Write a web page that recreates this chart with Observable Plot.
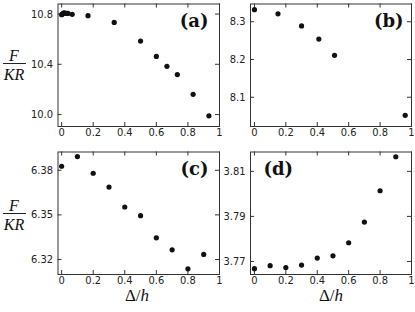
<!DOCTYPE html>
<html><head><meta charset="utf-8">
<script src="https://cdn.jsdelivr.net/npm/d3@7"></script>
<script src="https://cdn.jsdelivr.net/npm/@observablehq/plot@0.6"></script>
<style>
html,body{margin:0;padding:0;background:#fff;}
#wrap{position:relative;width:415px;height:312px;overflow:hidden;background:#fff;}
#wrap svg{position:absolute;overflow:visible;}
.fr{position:absolute;font-family:"Liberation Serif",serif;font-style:italic;font-size:16px;line-height:12px;text-align:center;width:26px;left:1px;color:#111;}
.bar{position:absolute;left:3px;width:23px;height:1px;background:#222;}
.xl{position:absolute;width:80px;text-align:center;font-family:"Liberation Serif",serif;font-size:17px;line-height:12px;color:#111;}
.xl i{font-style:italic;}
</style></head><body><div id="wrap"></div>
<script>
// ---- data ----
const xTicks = [0, 0.2, 0.4, 0.6, 0.8, 1];
const xTickLabels = ["0", "0.2", "0.4", "0.6", "0.8", "1"];

const aDelta = [0, 0.005, 0.01, 0.015, 0.02, 0.03, 0.04, 0.067, 0.167, 0.333, 0.5, 0.6, 0.667, 0.733, 0.833, 0.933];
const aF = [10.795, 10.800, 10.805, 10.810, 10.808, 10.806, 10.805, 10.798, 10.787, 10.733, 10.585, 10.463, 10.384, 10.318, 10.161, 9.99];
const aYTicks = [10.0, 10.4, 10.8];
const aYTickLabels = ["10.0", "10.4", "10.8"];

const bDelta = [0, 0.15, 0.3, 0.41, 0.51, 0.96];
const bF = [8.332, 8.321, 8.289, 8.254, 8.211, 8.052];
const bYTicks = [8.1, 8.2, 8.3];
const bYTickLabels = ["8.1", "8.2", "8.3"];

const cDelta = [0, 0.1, 0.2, 0.3, 0.4, 0.5, 0.6, 0.7, 0.8, 0.9];
const cF = [6.3827, 6.3892, 6.378, 6.3687, 6.3553, 6.3495, 6.3346, 6.3265, 6.3137, 6.3234];
const cYTicks = [6.32, 6.35, 6.38];
const cYTickLabels = ["6.32", "6.35", "6.38"];

const dDelta = [0, 0.1, 0.2, 0.3, 0.4, 0.5, 0.6, 0.7, 0.8, 0.9];
const dF = [3.7668, 3.7681, 3.7673, 3.7684, 3.7715, 3.7725, 3.7783, 3.7875, 3.8014, 3.8165];
const dYTicks = [3.77, 3.79, 3.81];
const dYTickLabels = ["3.77", "3.79", "3.81"];

const panelLabels = ["(a)", "(b)", "(c)", "(d)"];
const yLabelTop = "F";
const yLabelBottom = "KR";

// ---- drawing ----
const wrap = document.getElementById("wrap");
const frameColor = "#333";
const tickFont = '"DejaVu Sans Condensed","DejaVu Sans",sans-serif';

function panel(cfg) {
  const innerH = cfg.height - cfg.mt - cfg.mb;
  const innerW = cfg.width - cfg.ml - cfg.mr;
  const data = cfg.xs.map((x, i) => ({x, y: cfg.ys[i]}));
  const tk = 4;
  const chart = Plot.plot({
    width: cfg.width, height: cfg.height,
    marginLeft: cfg.ml, marginRight: cfg.mr, marginTop: cfg.mt, marginBottom: cfg.mb,
    x: {domain: cfg.xDomain, label: null},
    y: {domain: cfg.yDomain, label: null},
    style: {fontFamily: tickFont, fontSize: "11px", color: "#222", background: "transparent", overflow: "visible"},
    marks: [
      Plot.tickX(xTicks, {x: d => d, insetTop: innerH - tk, stroke: frameColor}),
      Plot.tickX(xTicks, {x: d => d, insetBottom: innerH - tk, stroke: frameColor}),
      Plot.tickY(cfg.yTicks, {y: d => d, insetLeft: innerW - tk, stroke: frameColor}),
      Plot.tickY(cfg.yTicks, {y: d => d, insetRight: innerW - tk, stroke: frameColor}),
      Plot.axisX(xTicks, {anchor: "bottom", label: null, tickSize: 0, tickPadding: 2, tickFormat: d => xTickLabels[xTicks.indexOf(d)], fill: "#222"}),
      Plot.axisY(cfg.yTicks, {anchor: "left", label: null, tickSize: 0, tickPadding: 5, tickFormat: d => cfg.yTickLabels[cfg.yTicks.indexOf(d)], fill: "#222"}),
      Plot.frame({stroke: frameColor}),
      Plot.dot(data, {x: "x", y: "y", r: 2.6, fill: "#111", stroke: "none"}),
      Plot.text([cfg.label], {text: d => d, frameAnchor: cfg.anchor, textAnchor: cfg.anchor === "top-left" ? "start" : "end", lineAnchor: "top",
        dx: cfg.ldx, dy: 10, fontFamily: '"DejaVu Serif",serif', fontWeight: "bold", fontSize: 18, fill: "#111"})
    ]
  });
  chart.style.left = cfg.left + "px";
  chart.style.top = cfg.top + "px";
  wrap.appendChild(chart);
}

const xDomL = [-0.023, 1];
const xDomR = [-0.025, 1];
panel({left: 0, top: 0, width: 224, height: 145, ml: 57.5, mr: 5, mt: 3.5, mb: 19, xDomain: xDomL, yDomain: [9.905, 10.88],
  xs: aDelta, ys: aF, yTicks: aYTicks, yTickLabels: aYTickLabels, label: panelLabels[0], anchor: "top-right", ldx: -11});
panel({left: 215, top: 0, width: 200, height: 145, ml: 35, mr: 4, mt: 3.5, mb: 19, xDomain: xDomR, yDomain: [8.0225, 8.347],
  xs: bDelta, ys: bF, yTicks: bYTicks, yTickLabels: bYTickLabels, label: panelLabels[1], anchor: "top-right", ldx: -8});
panel({left: 0, top: 148, width: 224, height: 164, ml: 57.5, mr: 5, mt: 3.5, mb: 38, xDomain: xDomL, yDomain: [6.3099, 6.3923],
  xs: cDelta, ys: cF, yTicks: cYTicks, yTickLabels: cYTickLabels, label: panelLabels[2], anchor: "top-right", ldx: -11});
panel({left: 215, top: 148, width: 200, height: 164, ml: 35, mr: 4, mt: 3.5, mb: 38, xDomain: xDomR, yDomain: [3.7642, 3.8186],
  xs: dDelta, ys: dF, yTicks: dYTicks, yTickLabels: dYTickLabels, label: panelLabels[3], anchor: "top-left", ldx: 13});

// y-axis fraction labels and x-axis labels
function frac(lineY) {
  const f = document.createElement("div"); f.className = "fr"; f.style.top = (lineY - 13) + "px"; f.textContent = yLabelTop; wrap.appendChild(f);
  const b = document.createElement("div"); b.className = "bar"; b.style.top = lineY + "px"; wrap.appendChild(b);
  const k = document.createElement("div"); k.className = "fr"; k.style.top = (lineY + 5.6) + "px"; k.textContent = yLabelBottom; wrap.appendChild(k);
}
frac(63);
frac(213);
function xlab(cx) {
  const d = document.createElement("div"); d.className = "xl"; d.style.left = (cx - 40) + "px"; d.style.top = "290.2px";
  d.innerHTML = "Δ/<i>h</i>"; wrap.appendChild(d);
}
xlab(137);
xlab(331);
</script></body></html>
